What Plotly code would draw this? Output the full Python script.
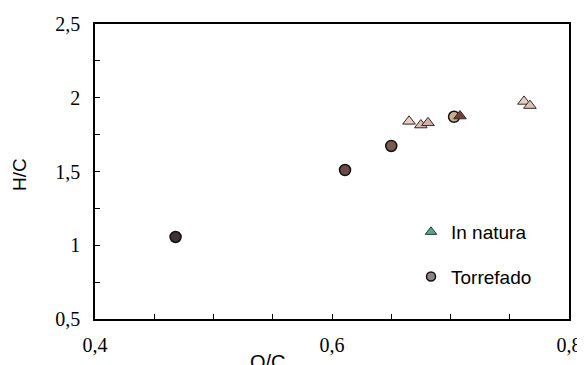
import plotly.graph_objects as go

# Data
natura_x = [0.665, 0.675, 0.681, 0.708, 0.762, 0.767]
natura_y = [1.840, 1.815, 1.830, 1.876, 1.975, 1.947]
natura_colors = ["#e3d0c8", "#d6bfb5", "#cfb3a8", "#6e4038", "#e3d0c8", "#d9c3b9"]

torref_x = [0.468, 0.611, 0.650, 0.703]
torref_y = [1.056, 1.510, 1.673, 1.871]
torref_colors = ["#3b3335", "#6a4b49", "#7b5a4f", "#c9ae92"]

x_ticks = [0.4, 0.6, 0.8]
y_ticks = [0.5, 1.0, 1.5, 2.0, 2.5]

# target plot area in page pixels (page has an 8px body margin)
OFF = 8
L, T, W, H = 95 - OFF, 24 - OFF, 474, 295

fig = go.Figure()

fig.add_trace(go.Scatter(
    x=torref_x, y=torref_y, mode="markers", showlegend=False,
    marker=dict(symbol="circle", size=11, color=torref_colors,
                line=dict(color="#111111", width=1.5)),
))
fig.add_trace(go.Scatter(
    x=natura_x, y=natura_y, mode="markers", showlegend=False,
    marker=dict(symbol="triangle-up", size=11, color=natura_colors,
                line=dict(color="#3a2624", width=1)),
))

# legend entries
fig.add_trace(go.Scatter(
    x=[None], y=[None], mode="markers", name="In natura", legendgroup="a",
    marker=dict(symbol="triangle-up", size=10, color="#5fa58b",
                line=dict(color="#1e3d33", width=1)),
))
fig.add_trace(go.Scatter(
    x=[None], y=[None], mode="markers", name="Torrefado", legendgroup="b",
    marker=dict(symbol="circle", size=9, color="#8c838a",
                line=dict(color="#111111", width=1.5)),
))

tickfont = dict(family="Liberation Serif", size=20, color="#000000")

fig.update_xaxes(
    range=[0.4, 0.8], tickvals=x_ticks, ticks="inside", ticklen=5,
    tickcolor="black", showline=True, linecolor="black", linewidth=1.5,
    mirror=True, showgrid=False, zeroline=False, tickfont=tickfont,
    ticklabelstandoff=7, automargin=False,
    minor=dict(dtick=0.05, ticks="inside", ticklen=5, tickcolor="black", showgrid=False),
)
fig.update_yaxes(
    range=[0.5, 2.5], tickvals=y_ticks, ticks="inside", ticklen=5,
    tickcolor="black", showline=True, linecolor="black", linewidth=1.5,
    mirror=True, showgrid=False, zeroline=False, tickfont=tickfont,
    ticklabelstandoff=9, automargin=False,
    minor=dict(dtick=0.25, ticks="inside", ticklen=5, tickcolor="black", showgrid=False),
)

fig.add_annotation(text="O/C", xref="paper", yref="paper", x=(268 - 95) / W, y=-(362 - 319) / H,
                   showarrow=False, font=dict(family="Liberation Sans", size=20, color="black"),
                   xanchor="center", yanchor="middle")
fig.add_annotation(text="H/C", xref="paper", yref="paper", x=-(95 - 20) / W, y=(319 - 175) / H,
                   showarrow=False, textangle=-90,
                   font=dict(family="Liberation Sans", size=19, color="black"),
                   xanchor="center", yanchor="middle")

fig.update_layout(
    width=585, height=365,
    margin=dict(l=L, r=585 - L - W, t=T, b=365 - T - H, autoexpand=False),
    paper_bgcolor="white", plot_bgcolor="white",
    separators=", ",
    showlegend=True,
    legend=dict(x=(411 - 95) / W, y=(319 - 213) / H, xanchor="left", yanchor="top",
                traceorder="grouped", tracegroupgap=17, bgcolor="rgba(0,0,0,0)",
                font=dict(family="Liberation Sans", size=19, color="black")),
)

fig.write_html("out.html")
